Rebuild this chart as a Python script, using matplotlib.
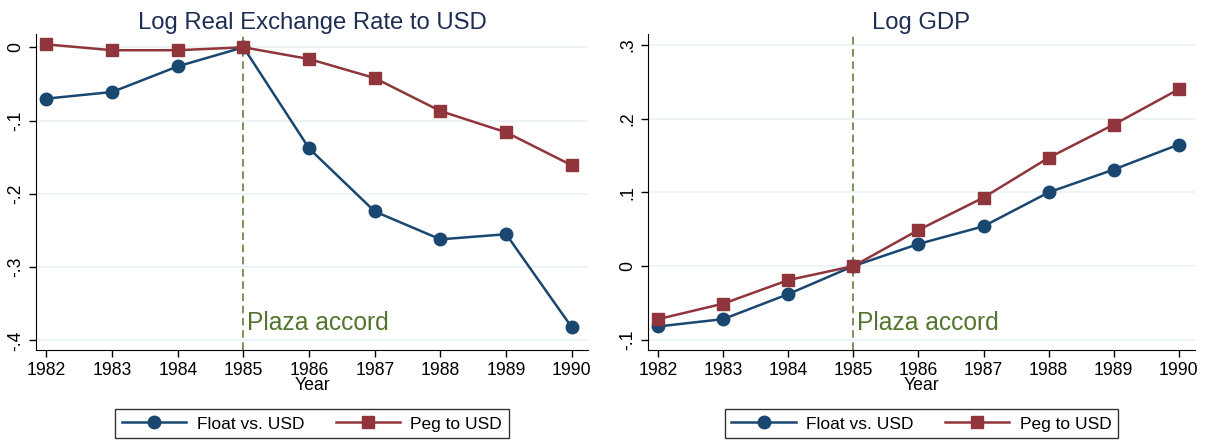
import numpy as np
import matplotlib
matplotlib.use("Agg")
import matplotlib.pyplot as plt

plt.rcParams['font.family'] = ['Liberation Sans', 'DejaVu Sans']

years = np.arange(1982, 1991)

# log real exchange rate to USD
rer_float = [-0.070, -0.061, -0.026, 0.0, -0.138, -0.224, -0.262, -0.255, -0.382]
rer_peg = [0.004, -0.004, -0.004, 0.0, -0.016, -0.042, -0.087, -0.116, -0.161]

# log GDP
gdp_float = [-0.082, -0.072, -0.038, 0.0, 0.030, 0.054, 0.100, 0.131, 0.165]
gdp_peg = [-0.072, -0.051, -0.019, 0.0, 0.049, 0.093, 0.147, 0.192, 0.240]

titles = ['Log Real Exchange Rate to USD', 'Log GDP']
yticks = [[0, -0.1, -0.2, -0.3, -0.4], [-0.1, 0, 0.1, 0.2, 0.3]]
ylims = [(-0.413, 0.018), (-0.114, 0.315)]

navy = '#1a476f'
maroon = '#90353b'
green = '#55752f'
title_col = '#1e2d54'


def fmt(v):
    s = f'{v:g}'
    return s.replace('0.', '.')


fig = plt.figure(figsize=(12.11, 4.4), dpi=100)
axes = [fig.add_axes([0.0297, 0.2045, 0.456, 0.718]),
        fig.add_axes([0.535, 0.2045, 0.4517, 0.718])]

data = [(rer_float, rer_peg), (gdp_float, gdp_peg)]
for i, ax in enumerate(axes):
    fl, pg = data[i]
    ax.axvline(1985, color=green, ls=(0, (5, 3)), lw=1.1, zorder=1)
    ax.plot(years, fl, color=navy, lw=1.8, marker='o', ms=9, label='Float vs. USD', zorder=3)
    ax.plot(years, pg, color=maroon, lw=1.8, marker='s', ms=8.5, label='Peg to USD', zorder=3)
    ax.set_title(titles[i], color=title_col, fontsize=17.2, pad=4)
    ax.set_xlim(1981.84, 1990.25)
    ax.set_ylim(*ylims[i])
    ax.set_xticks(years)
    ax.set_xticklabels([str(y) for y in years], fontsize=12.7)
    ax.set_yticks(yticks[i])
    ax.set_yticklabels([fmt(v) for v in yticks[i]], fontsize=12.7, rotation=90, va='center')
    ax.set_xlabel('Year', fontsize=12.7, labelpad=-1)
    ax.grid(axis='y', color='#eaf2f3', lw=1.2)
    ax.set_axisbelow(True)
    for s in ['top', 'right']:
        ax.spines[s].set_visible(False)
    ax.tick_params(direction='out', length=5, width=1)
    ax.text(1985.05, 0.063, 'Plaza accord', transform=ax.get_xaxis_transform(),
            color=green, fontsize=17.7, ha='left', va='baseline')
    leg = ax.legend(loc='center', bbox_to_anchor=(0.5, -0.234), ncol=2, frameon=True,
                    fancybox=False, edgecolor='black', fontsize=12.5, handlelength=3.7,
                    handletextpad=0.6, columnspacing=1.8, borderpad=0.4)
    leg.get_frame().set_linewidth(1)

fig.savefig('out.png', dpi=100)
